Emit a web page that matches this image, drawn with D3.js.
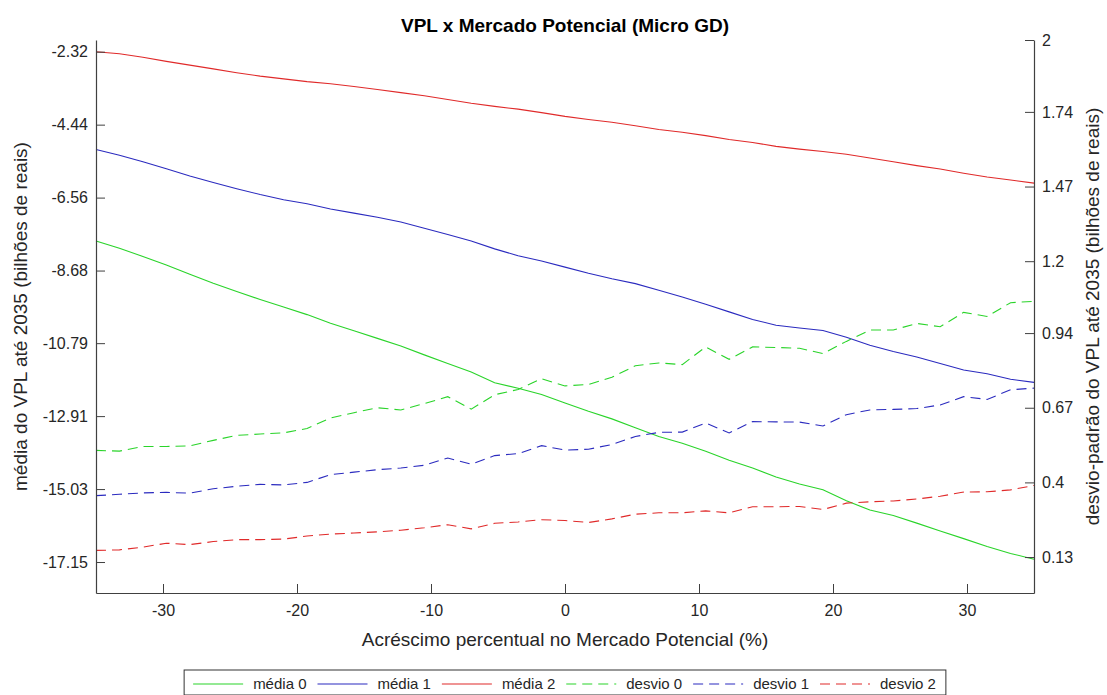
<!DOCTYPE html>
<html>
<head>
<meta charset="utf-8">
<script src="https://cdn.jsdelivr.net/npm/d3@7"></script>
<style>
  body { margin: 0; background: #fff; }
  text { font-family: "Liberation Sans", Arial, Helvetica, sans-serif; }
</style>
</head>
<body>
<svg id="chart" width="1107" height="695"></svg>
<script>
// Acréscimo percentual no mercado potencial (%)
const xValues = [-35, -33.25, -31.5, -29.75, -28, -26.25, -24.5, -22.75, -21, -19.25,
  -17.5, -15.75, -14, -12.25, -10.5, -8.75, -7, -5.25, -3.5, -1.75,
  0, 1.75, 3.5, 5.25, 7, 8.75, 10.5, 12.25, 14, 15.75,
  17.5, 19.25, 21, 22.75, 24.5, 26.25, 28, 29.75, 31.5, 33.25, 35];

// média do VPL (eixo esquerdo, bilhões de reais)
const media0 = [-7.82, -8.03, -8.27, -8.52, -8.79, -9.05, -9.29, -9.52, -9.74, -9.96,
  -10.21, -10.43, -10.65, -10.87, -11.13, -11.38, -11.63, -11.94, -12.10, -12.28,
  -12.53, -12.77, -12.99, -13.25, -13.50, -13.70, -13.93, -14.19, -14.42, -14.68,
  -14.88, -15.05, -15.37, -15.64, -15.80, -16.02, -16.25, -16.47, -16.70, -16.90, -17.07];
const media1 = [-5.16, -5.33, -5.52, -5.72, -5.93, -6.12, -6.30, -6.47, -6.62, -6.74,
  -6.89, -7.01, -7.13, -7.27, -7.45, -7.63, -7.82, -8.05, -8.25, -8.40,
  -8.58, -8.76, -8.92, -9.06, -9.25, -9.45, -9.66, -9.88, -10.10, -10.27,
  -10.35, -10.42, -10.62, -10.85, -11.03, -11.19, -11.38, -11.57, -11.68, -11.84, -11.93];
const media2 = [-2.32, -2.38, -2.48, -2.60, -2.71, -2.82, -2.93, -3.03, -3.11, -3.19,
  -3.25, -3.33, -3.42, -3.51, -3.60, -3.71, -3.82, -3.91, -3.99, -4.09,
  -4.20, -4.29, -4.37, -4.47, -4.58, -4.66, -4.76, -4.87, -4.96, -5.07,
  -5.15, -5.22, -5.30, -5.41, -5.52, -5.63, -5.73, -5.85, -5.96, -6.05, -6.14];

// desvio-padrão do VPL (eixo direito, bilhões de reais)
const desvio0 = [0.516, 0.513, 0.530, 0.530, 0.532, 0.552, 0.570, 0.575, 0.579, 0.595,
  0.633, 0.652, 0.670, 0.662, 0.685, 0.710, 0.665, 0.717, 0.736, 0.775,
  0.749, 0.754, 0.780, 0.822, 0.832, 0.826, 0.890, 0.845, 0.890, 0.888,
  0.885, 0.866, 0.910, 0.951, 0.951, 0.975, 0.963, 1.015, 1.000, 1.050, 1.055];
const desvio1 = [0.352, 0.357, 0.362, 0.364, 0.361, 0.377, 0.386, 0.393, 0.391, 0.400,
  0.428, 0.437, 0.446, 0.452, 0.462, 0.488, 0.466, 0.497, 0.504, 0.533,
  0.517, 0.520, 0.537, 0.566, 0.581, 0.582, 0.615, 0.579, 0.620, 0.619,
  0.618, 0.604, 0.645, 0.662, 0.664, 0.667, 0.680, 0.710, 0.700, 0.735, 0.741];
const desvio2 = [0.154, 0.156, 0.166, 0.180, 0.175, 0.186, 0.193, 0.193, 0.195, 0.206,
  0.213, 0.217, 0.221, 0.227, 0.236, 0.247, 0.232, 0.252, 0.257, 0.265,
  0.262, 0.255, 0.268, 0.285, 0.290, 0.290, 0.297, 0.290, 0.312, 0.312,
  0.313, 0.302, 0.325, 0.330, 0.333, 0.340, 0.350, 0.365, 0.366, 0.373, 0.389];

// Rótulos dos eixos
const xTicks = [-30, -20, -10, 0, 10, 20, 30];
const leftTicks = [-2.32, -4.44, -6.56, -8.68, -10.79, -12.91, -15.03, -17.15];
const rightTicks = [2, 1.74, 1.47, 1.2, 0.94, 0.67, 0.4, 0.13];

const seriesNames = ["média 0", "média 1", "média 2", "desvio 0", "desvio 1", "desvio 2"];
const seriesColors = ["#2ad42a", "#2b2bbf", "#e02a2a", "#2ad42a", "#2b2bbf", "#e02a2a"];

const series = [
  { name: seriesNames[0], values: media0, axis: "left", color: seriesColors[0], dashed: false },
  { name: seriesNames[1], values: media1, axis: "left", color: seriesColors[1], dashed: false },
  { name: seriesNames[2], values: media2, axis: "left", color: seriesColors[2], dashed: false },
  { name: seriesNames[3], values: desvio0, axis: "right", color: seriesColors[3], dashed: true },
  { name: seriesNames[4], values: desvio1, axis: "right", color: seriesColors[4], dashed: true },
  { name: seriesNames[5], values: desvio2, axis: "right", color: seriesColors[5], dashed: true }
];

const plot = { left: 96, right: 1034, top: 40, bottom: 593 };
const axisColor = "#404040";
const textColor = "#262626";
const dash = "10,6";

const svg = d3.select("#chart");

const x = d3.scaleLinear().domain([-35, 35]).range([plot.left, plot.right]);
const yLeft = d3.scaleLinear().domain([-18.05, -1.98]).range([plot.bottom, plot.top]);
const yRight = d3.scaleLinear().domain([0, 2]).range([plot.bottom, plot.top]);

// Linhas
const plotArea = svg.append("g");
series.forEach(s => {
  const yScale = s.axis === "left" ? yLeft : yRight;
  const line = d3.line()
    .x((d, i) => x(xValues[i]))
    .y(d => yScale(d));
  plotArea.append("path")
    .datum(s.values)
    .attr("fill", "none")
    .attr("stroke", s.color)
    .attr("stroke-width", 1.1)
    .attr("stroke-dasharray", s.dashed ? dash : null)
    .attr("d", line);
});

function styleAxis(g) {
  g.select(".domain").attr("stroke", axisColor).attr("stroke-width", 1.2);
  g.selectAll(".tick line").attr("stroke", axisColor).attr("stroke-width", 1);
  g.selectAll(".tick text").attr("fill", textColor).style("font-size", "16px");
}

// Eixo x
svg.append("g")
  .attr("transform", `translate(0,${plot.bottom})`)
  .call(d3.axisBottom(x).tickValues(xTicks).tickSizeInner(-9).tickSizeOuter(0).tickPadding(12)
    .tickFormat(d => String(d)))
  .call(styleAxis);

// Eixo esquerdo
svg.append("g")
  .attr("transform", `translate(${plot.left},0)`)
  .call(d3.axisLeft(yLeft).tickValues(leftTicks).tickSizeInner(-9).tickSizeOuter(0).tickPadding(8)
    .tickFormat(d => d.toFixed(2)))
  .call(styleAxis);

// Eixo direito
svg.append("g")
  .attr("transform", `translate(${plot.right},0)`)
  .call(d3.axisRight(yRight).tickValues(rightTicks).tickSizeInner(-9).tickSizeOuter(0).tickPadding(8)
    .tickFormat(d => String(d)))
  .call(styleAxis);

// Título e rótulos
const midX = (plot.left + plot.right) / 2;
const midY = (plot.top + plot.bottom) / 2;

svg.append("text")
  .attr("x", midX).attr("y", 32)
  .attr("text-anchor", "middle")
  .attr("fill", "#000")
  .style("font-size", "19px").style("font-weight", "bold")
  .text("VPL x Mercado Potencial (Micro GD)");

svg.append("text")
  .attr("x", midX).attr("y", 646)
  .attr("text-anchor", "middle")
  .attr("fill", textColor)
  .style("font-size", "19px")
  .text("Acréscimo percentual no Mercado Potencial (%)");

svg.append("text")
  .attr("transform", `translate(27,${midY}) rotate(-90)`)
  .attr("text-anchor", "middle")
  .attr("fill", textColor)
  .style("font-size", "19px")
  .text("média do VPL até 2035 (bilhões de reais)");

svg.append("text")
  .attr("transform", `translate(1099,${midY}) rotate(-90)`)
  .attr("text-anchor", "middle")
  .attr("fill", textColor)
  .style("font-size", "19px")
  .text("desvio-padrão do VPL até 2035 (bilhões de reais)");

// Legenda
const legend = svg.append("g");
const legendBox = legend.append("rect")
  .attr("fill", "#fff")
  .attr("stroke", "#333")
  .attr("stroke-width", 1);
const legendY = 684;
let cursor = 0;
const itemsG = legend.append("g");
series.forEach(s => {
  itemsG.append("line")
    .attr("x1", cursor + 9).attr("x2", cursor + 59)
    .attr("y1", legendY).attr("y2", legendY)
    .attr("stroke", s.color).attr("stroke-width", 1.1)
    .attr("stroke-dasharray", s.dashed ? dash : null);
  const t = itemsG.append("text")
    .attr("x", cursor + 69).attr("y", legendY + 5)
    .attr("fill", textColor)
    .style("font-size", "15px")
    .text(s.name);
  cursor += 69 + t.node().getComputedTextLength() + 2;
});
const legendW = cursor + 8;
const legendX = midX - legendW / 2;
itemsG.attr("transform", `translate(${legendX},0)`);
legendBox.attr("x", legendX).attr("y", 670).attr("width", legendW).attr("height", 25);
</script>
</body>
</html>
